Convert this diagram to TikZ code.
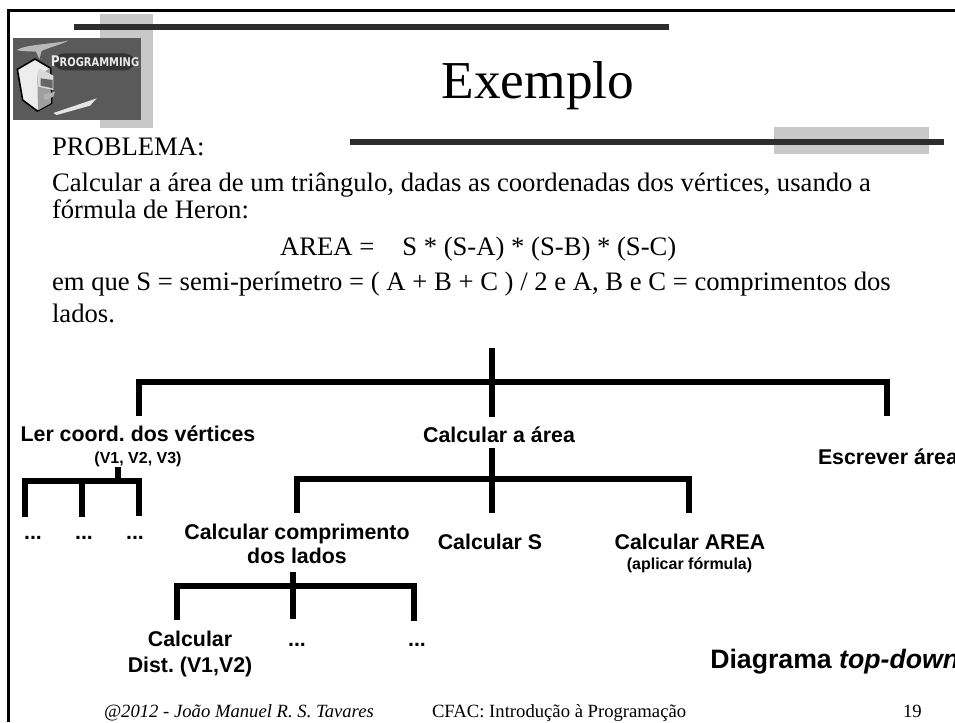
\documentclass[tikz,border=0pt]{standalone}
\usepackage{fontspec}
\setmainfont{Liberation Serif}
\setsansfont{Liberation Sans}
\newfontfamily\logofont{DejaVu Sans Condensed}
\definecolor{barc}{HTML}{2D2D2D}
\definecolor{blockc}{HTML}{C8C8C8}
\definecolor{logoc}{HTML}{5A5A5A}
\tikzset{
  x=0.75pt,y=-0.75pt,
  txt/.style={anchor=base west,inner sep=0pt,outer sep=0pt,font=\frenchspacing\fontsize{20}{20}\selectfont},
  lab/.style={anchor=base,inner sep=0pt,outer sep=0pt,align=center,font=\frenchspacing\sffamily\bfseries\fontsize{16}{18}\selectfont},
  sublab/.style={anchor=base,inner sep=0pt,outer sep=0pt,font=\frenchspacing\sffamily\bfseries\fontsize{12}{12}\selectfont},
  foot/.style={anchor=base west,inner sep=0pt,outer sep=0pt,font=\frenchspacing\fontsize{14}{14}\selectfont},
  link/.style={line width=4.5pt,black,line cap=butt,line join=miter},
  tick/.style={line width=4.5pt,black,line cap=butt},
}
\begin{document}
\begin{tikzpicture}
\useasboundingbox (0,0) rectangle (955,722);
\fill[white] (0,0) rectangle (955,722);
% frame
\fill[black] (7,9) rectangle (955,11.7);
\fill[black] (7,9) rectangle (10,722);
% decorative bars
\fill[blockc] (100,14) rectangle (153,128);
\fill[barc] (74,24) rectangle (669,30);
\fill[blockc] (774,127) rectangle (929,154);
\fill[barc] (350,139) rectangle (944,145);
% logo
\fill[logoc] (13,38) rectangle (141,120);
\begin{scope}[shift={(10,35)},x=0.25pt,y=-0.25pt]
  % wing
  \fill[gray!55!white] (20,45) .. controls (50,28) and (120,28) .. (175,17) .. controls (150,30) and (120,36) .. (95,48) -- (88,72) -- (78,50) .. controls (55,48) and (35,50) .. (20,45) -- cycle;
  % computer
  \fill[white!93!black,draw=black,line width=1.2pt] (22,103) -- (75,72) -- (122,100) -- (125,205) -- (82,228) -- (38,195) -- cycle;
  \fill[gray!75!white] (82,122) -- (120,100) -- (122,205) -- (84,226) -- cycle;
  \fill[white!85!black] (82,112) -- (90,100) -- (130,122) -- (130,165) -- (85,155) -- cycle;
  \fill[gray!80!black] (92,130) -- (128,135) -- (128,160) -- (92,152) -- cycle;
  \fill[white!70!black] (100,180) -- (135,170) -- (130,185) -- (105,195) -- cycle;
  % keyboard
  \fill[white!90!black] (130,234) -- (260,190) -- (240,212) -- (140,240) -- cycle;
  % label
  \fill[black!80,rounded corners=10pt] (125,55) rectangle (382,106);
\end{scope}
\node[anchor=center,inner sep=0pt,xscale=0.92,font=\logofont\bfseries,text=white!92!black] (logotext) at (95,61.5) {\fontsize{11}{12}\selectfont P\fontsize{9}{12}\selectfont ROGRAMMING};
% title and text
\node[anchor=base,inner sep=0pt,font=\fontsize{40}{40}\selectfont] (title) at (538,98) {Exemplo};
\node[txt] (t1) at (52,155) {PROBLEMA:};
\node[txt] (t2) at (52,191) {Calcular a área de um triângulo, dadas as coordenadas dos vértices, usando a};
\node[txt] (t3) at (52,218) {fórmula de Heron:};
\node[txt] (t4) at (280,255) {AREA =\hspace{21pt}S * (S-A) * (S-B) * (S-C)};
\node[txt] (t5) at (52,290) {em que S = semi-perímetro = ( A + B + C ) / 2 e A, B e C = comprimentos dos};
\node[txt] (t6) at (52,322) {lados.};
% labels
\node[lab] (ler) at (138,441) {Ler coord. dos vértices};
\node[sublab] (ler2) at (138,463) {(V1, V2, V3)};
\node[lab] (area) at (499,442) {Calcular a área};
\node[lab,anchor=base west] (esc) at (818,464) {Escrever área};
\node[lab] (d1) at (33,539) {...};
\node[lab] (d2) at (84,539) {...};
\node[lab] (d3) at (135,539) {...};
\node[lab] (comp) at (297,539) {Calcular comprimento};
\node[lab] (comp2) at (297,563) {dos lados};
\node[lab] (calcs) at (490,549) {Calcular S};
\node[lab] (calca) at (690,549) {Calcular AREA};
\node[sublab] (calca2) at (689.5,569) {(aplicar fórmula)};
\node[lab] (cd1) at (190,646) {Calcular};
\node[lab] (cd2) at (190,672) {Dist. (V1,V2)};
\node[lab] (d4) at (297,646) {...};
\node[lab] (d5) at (417,646) {...};
\node[anchor=base west,inner sep=0pt,font=\frenchspacing\sffamily\bfseries\fontsize{20}{20}\selectfont] (diag) at (710,668) {Diagrama \textit{top-down}};
% footer
\node[foot,font=\frenchspacing\itshape\fontsize{14}{14}\selectfont] (f1) at (104,717) {@2012 - João Manuel R. S. Tavares};
\node[foot] (f2) at (432,717) {CFAC: Introdução à Programação};
\node[foot] (f3) at (903,717) {19};
% tree coordinates
\coordinate (r0) at (492,348); \coordinate (r1) at (492,382); \coordinate (r2) at (492,417);
\coordinate (rl) at (139,382); \coordinate (rld) at (139,416);
\coordinate (rr) at (887,382); \coordinate (rrd) at (887,416);
\coordinate (a0) at (492,448); \coordinate (a1) at (492,479); \coordinate (a2) at (492,513);
\coordinate (al) at (297,479); \coordinate (ald) at (297,513);
\coordinate (ar) at (689,479); \coordinate (ard) at (689,513);
\coordinate (b0) at (118,467); \coordinate (b1) at (118,481);
\coordinate (bl) at (25,481); \coordinate (bld) at (25,517);
\coordinate (bm) at (82,481); \coordinate (bmd) at (82,517);
\coordinate (br) at (139,481); \coordinate (brd) at (139,516);
\coordinate (c0) at (293,572); \coordinate (c1) at (293,586); \coordinate (c2) at (293,619);
\coordinate (cl) at (177,586); \coordinate (cld) at (177,620);
\coordinate (cr) at (414,586); \coordinate (crd) at (414,621);
% trees
\draw[tick] (r0) -- (r2);
\draw[link] (rld) -- (rl) -- (rr) -- (rrd);
\draw[tick] (a0) -- (a2);
\draw[link] (ald) -- (al) -- (ar) -- (ard);
\draw[tick] (b0) -- (b1);
\draw[link] (bld) -- (bl) -- (br) -- (brd);
\draw[tick] (bm) -- (bmd);
\draw[tick] (c0) -- (c2);
\draw[link] (cld) -- (cl) -- (cr) -- (crd);
\end{tikzpicture}
\end{document}
